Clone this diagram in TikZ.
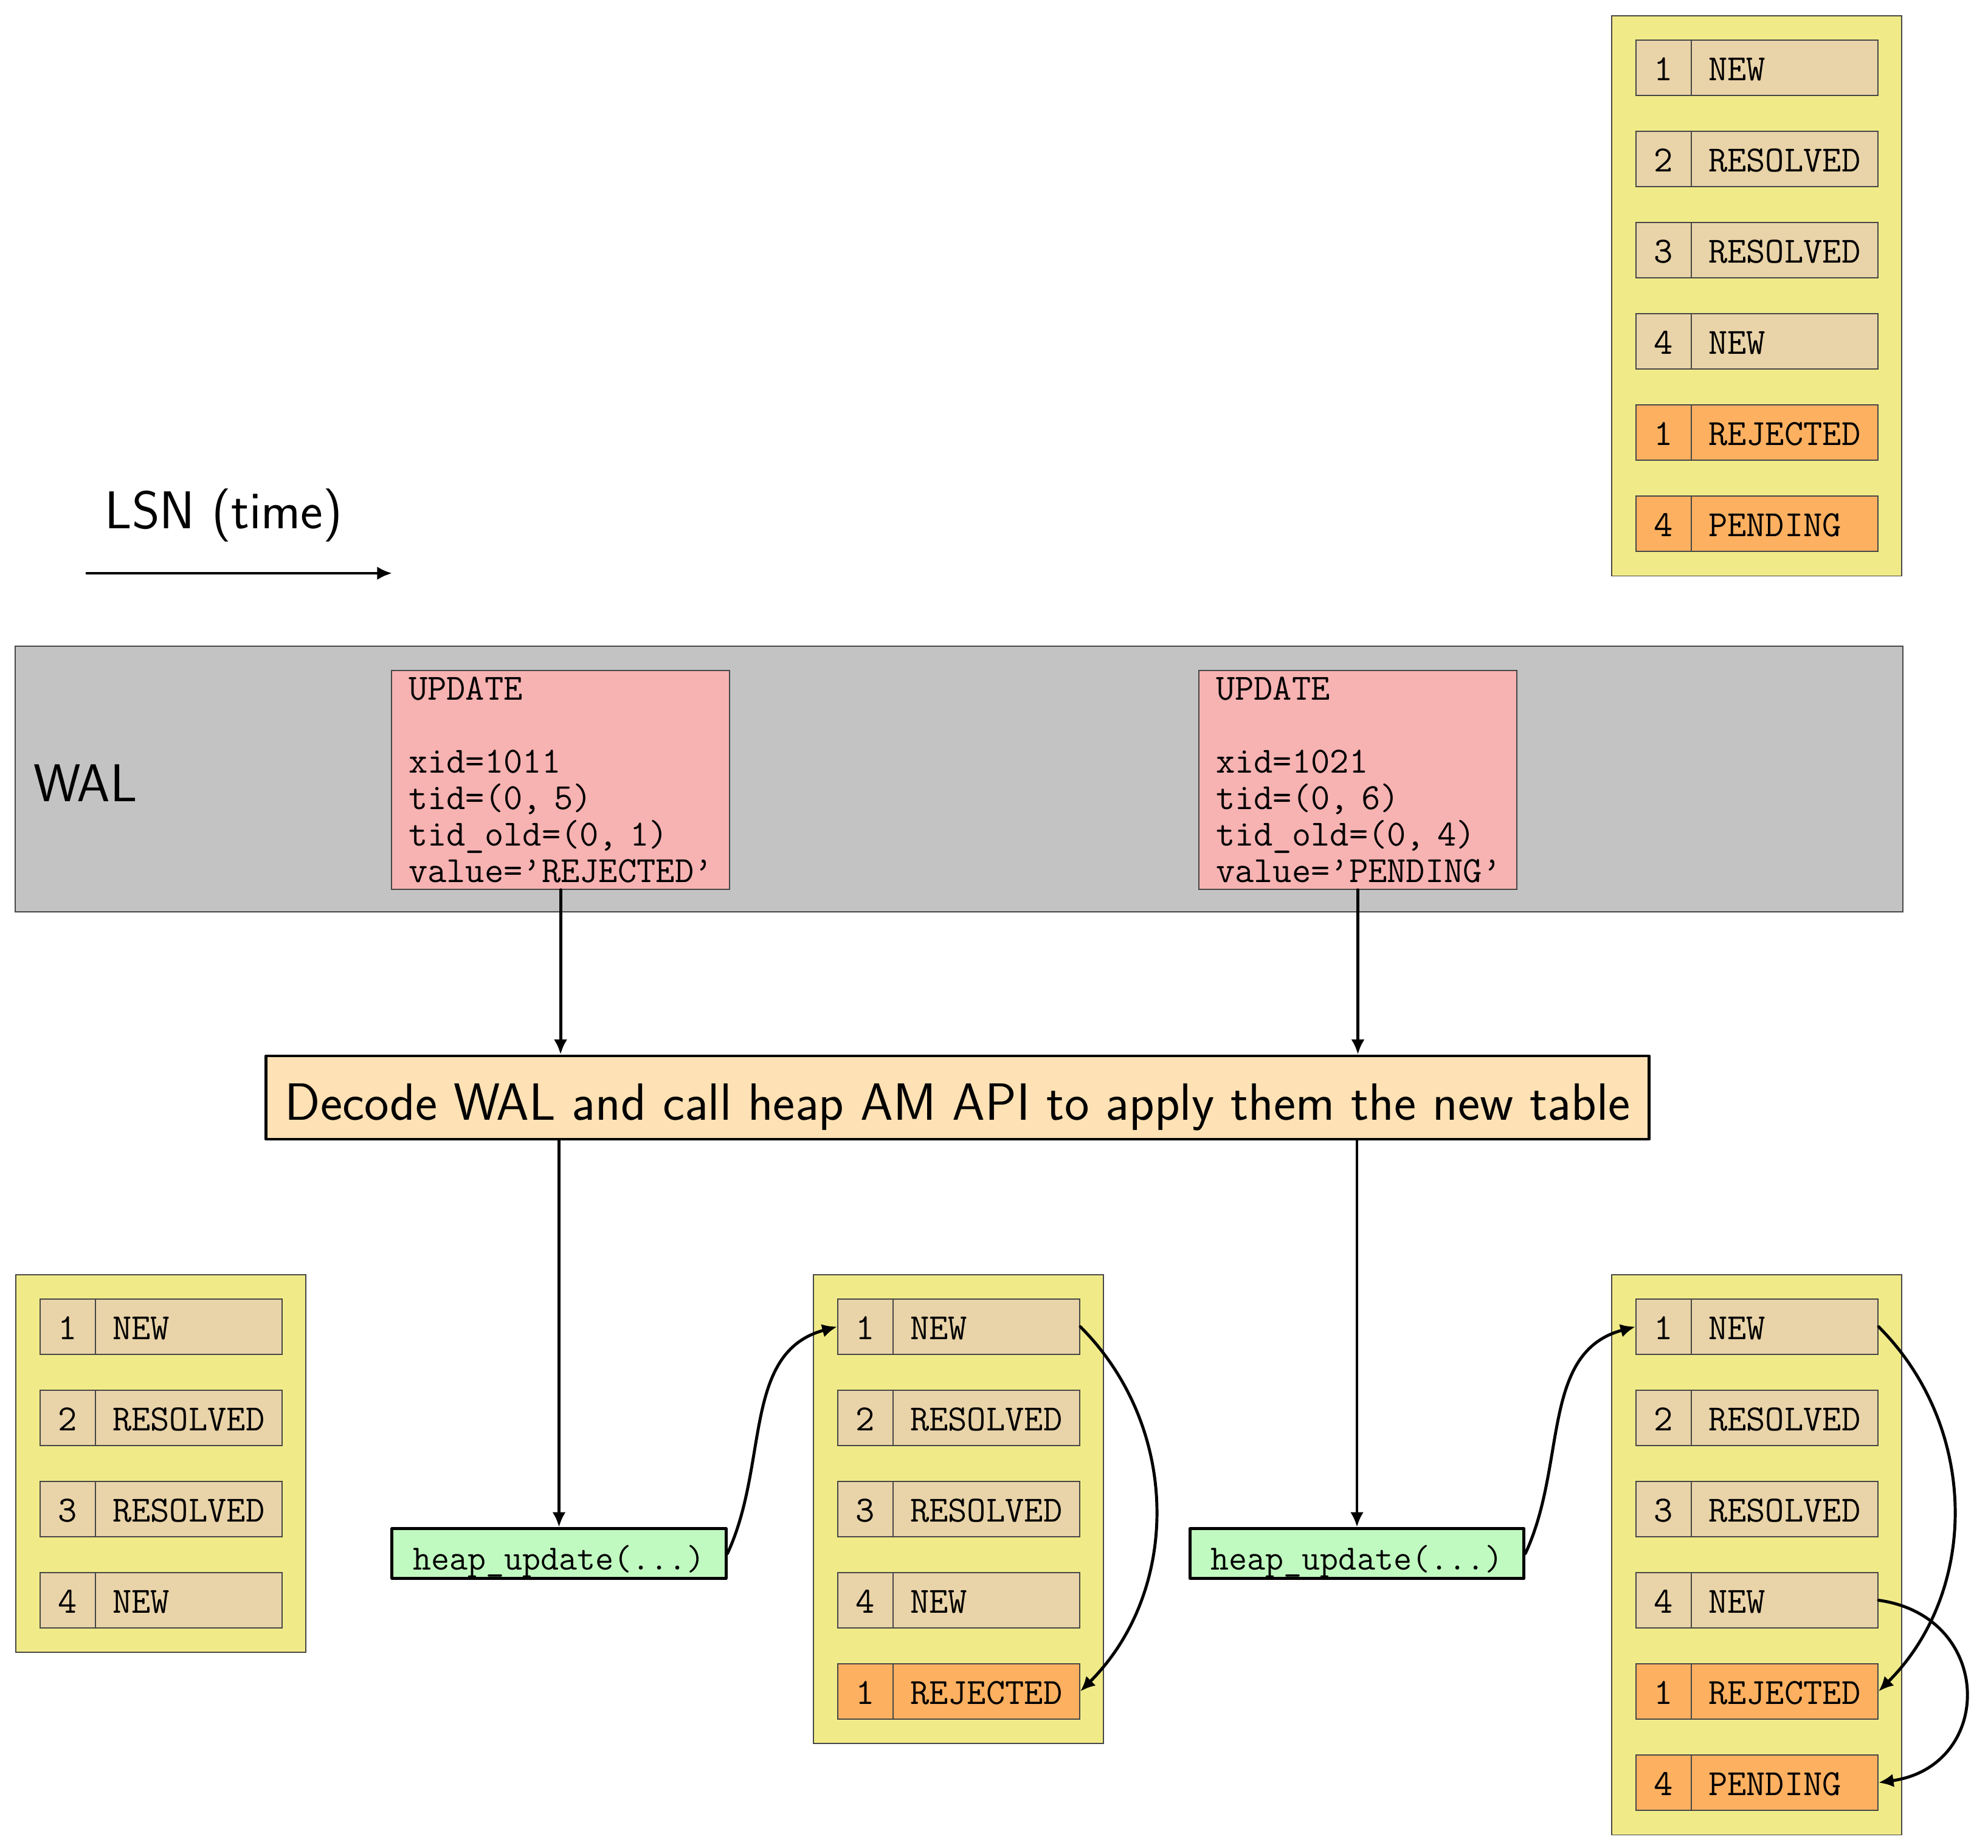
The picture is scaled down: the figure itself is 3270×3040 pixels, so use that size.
\documentclass[tikz,border=0pt]{standalone}
\usetikzlibrary{arrows.meta}
\definecolor{tblyellow}{RGB}{240,235,136}
\definecolor{celltan}{RGB}{233,211,168}
\definecolor{cellorange}{RGB}{253,176,96}
\definecolor{walgray}{RGB}{195,195,195}
\definecolor{recpink}{RGB}{247,178,178}
\definecolor{decodefill}{RGB}{254,225,180}
\definecolor{heapgreen}{RGB}{192,250,192}
\newcommand{\recfont}{\ttfamily\fontsize{17.28}{17.07}\selectfont}
\newcommand{\cellfont}{\ttfamily\fontsize{17.28}{20}\selectfont}
\newcommand{\heapfont}{\ttfamily\fontsize{16.6}{20}\selectfont}
\newcommand{\decodefont}{\sffamily\fontsize{24.5}{28}\selectfont}
\begin{document}
\lineskiplimit=-10pt
\begin{tikzpicture}[x=0.01cm,y=0.01cm,
  thinborder/.style={draw=black!72, line width=0.5pt},
  outerbox/.style={thinborder, fill=tblyellow, anchor=north west, minimum width=4.77cm, inner sep=0pt},
  numcell/.style={thinborder, anchor=north west, minimum width=0.91cm, minimum height=0.91cm, inner sep=0pt,
    font=\cellfont, text height=11.8pt, text depth=0pt},
  valcell/.style={thinborder, anchor=north west, minimum width=3.07cm, minimum height=0.91cm, inner xsep=8pt, inner ysep=0pt,
    text width=71.35pt, align=left, font=\cellfont, text height=11.8pt, text depth=0pt},
  walbox/.style={thinborder, fill=walgray, anchor=north west, minimum width=31.03cm, minimum height=4.37cm, inner sep=0pt},
  pinkbox/.style={thinborder, fill=recpink, anchor=north west, inner xsep=8pt, inner ysep=3pt, align=left,
    font=\recfont},
  bigsans/.style={font=\sffamily\Huge},
  decodebox/.style={draw=black, line width=1.35pt, line join=round, fill=decodefill, minimum width=22.74cm, minimum height=1.37cm,
    font=\decodefont, text height=20.8pt, text depth=0pt, inner sep=0pt},
  heapbox/.style={draw=black, line width=1.35pt, line join=round, fill=heapgreen, minimum width=5.49cm, minimum height=0.82cm,
    font=\heapfont, text height=15.1pt, text depth=0pt, inner sep=0pt},
  arr/.style={-{Latex[length=7pt,width=6.3pt]}, line width=1.4pt, line cap=round}
]
\useasboundingbox (0,0) rectangle (3270,-3040);

% LSN label and arrow
\node[bigsans, anchor=base west, inner sep=0pt] (lsn) at (172,-869) {LSN (time)};
\coordinate (lsnS) at (143,-943);
\coordinate (lsnE) at (645,-943);
\draw[arr] (lsnS) -- (lsnE);

% WAL band
\node[walbox] (wal) at (24,-1062) {};
\node[bigsans, anchor=base west, inner sep=0pt] (wallabel) at (55,-1318) {WAL};
\node[pinkbox, text width=142.2pt] (rec1) at (643,-1102)
  {UPDATE\\[17.07pt]xid=1011\\tid=(0, 5)\\tid\_old=(0, 1)\\value=’REJECTED’};
\node[pinkbox, text width=132.8pt] (rec2) at (1971,-1102)
  {UPDATE\\[17.07pt]xid=1021\\tid=(0, 6)\\tid\_old=(0, 4)\\value=’PENDING’};

% decode box
\node[decodebox] (decode) at (1575,-1805.5) {Decode WAL and call heap AM API to apply them the new table};

% heap_update boxes
\node[heapbox] (heap1) at (919.5,-2555.5) {heap\_update(...)};
\node[heapbox] (heap2) at (2232,-2555.5) {heap\_update(...)};

% top-right table
\node[outerbox, minimum height=9.21cm] (T) at (2650,-25) {};
\foreach \n/\v/\c [count=\i] in {1/NEW/celltan,2/RESOLVED/celltan,3/RESOLVED/celltan,4/NEW/celltan,1/REJECTED/cellorange,4/PENDING/cellorange}{
  \node[numcell, fill=\c] (T-\i-num) at (2690,-65-150*\i+150) {\n};
  \node[valcell, fill=\c] (T-\i-val) at (2781,-65-150*\i+150) {\v};
}

% left table
\node[outerbox, minimum height=6.21cm] (A) at (25,-2096) {};
\foreach \n/\v/\c [count=\i] in {1/NEW/celltan,2/RESOLVED/celltan,3/RESOLVED/celltan,4/NEW/celltan}{
  \node[numcell, fill=\c] (A-\i-num) at (65,-2136-150*\i+150) {\n};
  \node[valcell, fill=\c] (A-\i-val) at (156,-2136-150*\i+150) {\v};
}

% middle table
\node[outerbox, minimum height=7.71cm] (B) at (1337,-2096) {};
\foreach \n/\v/\c [count=\i] in {1/NEW/celltan,2/RESOLVED/celltan,3/RESOLVED/celltan,4/NEW/celltan,1/REJECTED/cellorange}{
  \node[numcell, fill=\c] (B-\i-num) at (1377,-2136-150*\i+150) {\n};
  \node[valcell, fill=\c] (B-\i-val) at (1468,-2136-150*\i+150) {\v};
}

% right table
\node[outerbox, minimum height=9.21cm] (C) at (2650,-2096) {};
\foreach \n/\v/\c [count=\i] in {1/NEW/celltan,2/RESOLVED/celltan,3/RESOLVED/celltan,4/NEW/celltan,1/REJECTED/cellorange,4/PENDING/cellorange}{
  \node[numcell, fill=\c] (C-\i-num) at (2690,-2136-150*\i+150) {\n};
  \node[valcell, fill=\c] (C-\i-val) at (2781,-2136-150*\i+150) {\v};
}

% straight connectors
\draw[arr] (rec1.south) -- (rec1.south |- decode.north);
\draw[arr] (rec2.south) -- (rec2.south |- decode.north);
\draw[arr] (heap1.north |- decode.south) -- (heap1.north);
\draw[arr] (heap2.north |- decode.south) -- (heap2.north);

% curved connectors
\draw[arr] (heap1.east) to[out=65,in=195] (B-1-num.west);
\draw[arr] (B-1-val.east) to[out=-45,in=45] (B-5-val.east);
\draw[arr] (heap2.east) to[out=65,in=195] (C-1-num.west);
\draw[arr] (C-1-val.east) to[out=-45,in=45] (C-5-val.east);
\draw[arr] (C-4-val.east) to[out=-8,in=8,looseness=1.65] (C-6-val.east);
\end{tikzpicture}
\end{document}
